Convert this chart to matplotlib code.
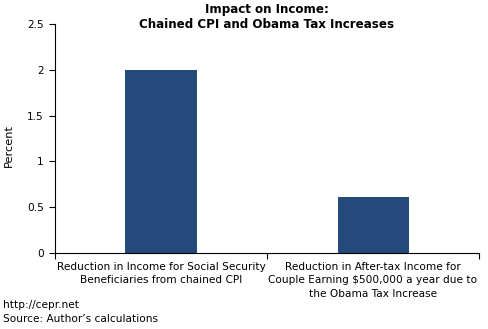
import matplotlib.pyplot as plt
import matplotlib.transforms as mtransforms

categories = ['Reduction in Income for Social Security\nBeneficiaries from chained CPI',
              'Reduction in After-tax Income for\nCouple Earning $500,000 a year due to\nthe Obama Tax Increase']
values = [2.0, 0.61]
yticks = [0, 0.5, 1, 1.5, 2, 2.5]
yticklabels = ['0', '0.5', '1', '1.5', '2', '2.5']

plt.rcParams['font.family'] = ['DejaVu Sans']

fig = plt.figure(figsize=(4.88, 3.29), dpi=100)
ax = fig.add_axes([0.1127, 0.231, 0.8689, 0.696])

x = [0.5, 1.5]
ax.bar(x, values, width=0.335, color='#234a7b')
ax.set_xlim(0, 2)
ax.set_ylim(0, 2.5)

ax.set_yticks(yticks)
ax.set_yticklabels(yticklabels, fontsize=7.6)
ax.set_xticks([0, 1, 2])
ax.set_xticklabels([])
ax.tick_params(axis='y', direction='out', length=4, width=0.8, pad=4)
ax.tick_params(axis='x', direction='out', length=4, width=0.8)

# category labels: x in data, y in figure coords
trans = mtransforms.blended_transform_factory(ax.transData, fig.transFigure)
for xi, lab in zip(x, categories):
    ax.text(xi, 1 - 262 / 329, lab, ha='center', va='top', fontsize=7.6,
            transform=trans, linespacing=1.42)

ax.spines['top'].set_visible(False)
ax.spines['right'].set_visible(False)
ax.spines['left'].set_linewidth(0.8)
ax.spines['bottom'].set_linewidth(0.8)

ax.set_ylabel('Percent', fontsize=8.2)
ax.yaxis.set_label_coords(-0.097, 0.47)

fig.text(267 / 488, 1 - 10 / 329, 'Impact on Income:',
         ha='center', va='center', fontsize=8.6, fontweight='bold')
fig.text(267 / 488, 1 - 25 / 329, 'Chained CPI and Obama Tax Increases',
         ha='center', va='center', fontsize=8.6, fontweight='bold')

fig.text(3 / 488, 1 - 312 / 329, 'http://cepr.net\nSource: Author\u2019s calculations',
         ha='left', va='center', fontsize=7.6, linespacing=1.42)

fig.savefig('out.png', dpi=100)
